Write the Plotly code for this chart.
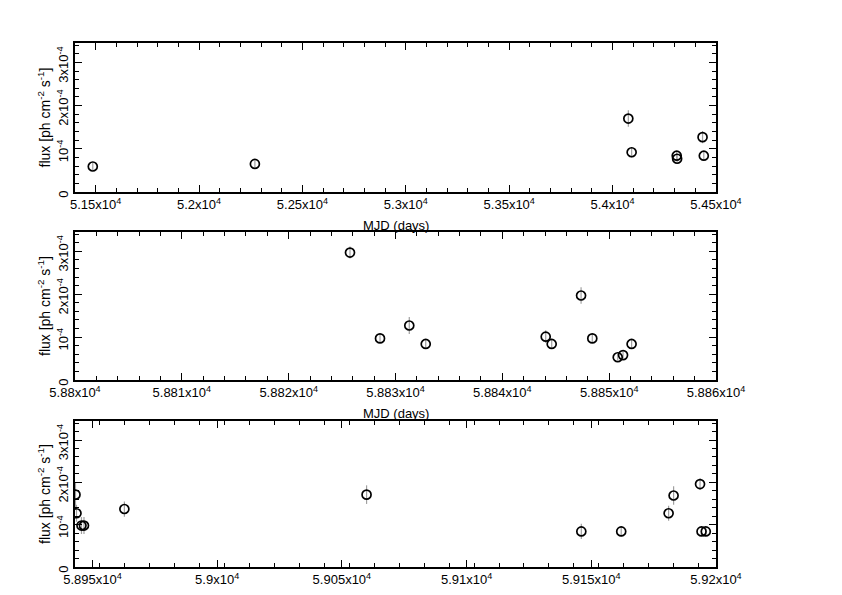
import plotly.graph_objects as go

# ---------------- data ----------------
p1_mjd = [51486, 52270, 54076, 54092, 54310, 54312, 54435, 54441]
p1_flux = [0.59e-4, 0.65e-4, 1.70e-4, 0.92e-4, 0.84e-4, 0.77e-4, 1.27e-4, 0.84e-4]
p1_err = [0.08e-4, 0.08e-4, 0.19e-4, 0.12e-4, 0.10e-4, 0.10e-4, 0.14e-4, 0.10e-4]

p2_mjd = [58825.74, 58828.55, 58831.29, 58832.83, 58844.06, 58844.62, 58847.37, 58848.42,
          58850.8, 58851.3, 58852.1]
p2_flux = [2.97e-4, 0.97e-4, 1.27e-4, 0.84e-4, 1.01e-4, 0.84e-4, 1.97e-4, 0.97e-4,
           0.53e-4, 0.58e-4, 0.84e-4]
p2_err = [0.14e-4, 0.10e-4, 0.20e-4, 0.10e-4, 0.15e-4, 0.12e-4, 0.19e-4, 0.10e-4,
          0.08e-4, 0.08e-4, 0.10e-4]

p3_mjd = [58943.2, 58943.6, 58945.6, 58946.6, 58962.8, 59059.9, 59146.0, 59162.0,
          59181.0, 59183.0, 59193.6, 59194.2, 59195.9]
p3_flux = [1.71e-4, 1.27e-4, 0.98e-4, 0.98e-4, 1.37e-4, 1.71e-4, 0.84e-4, 0.84e-4,
           1.27e-4, 1.69e-4, 1.96e-4, 0.84e-4, 0.84e-4]
p3_err = [0.30e-4, 0.20e-4, 0.20e-4, 0.20e-4, 0.18e-4, 0.22e-4, 0.18e-4, 0.12e-4,
          0.18e-4, 0.22e-4, 0.14e-4, 0.10e-4, 0.10e-4]

p1_ticks = [51500, 52000, 52500, 53000, 53500, 54000, 54500]
p1_labels = ["5.15x10<sup>4</sup>", "5.2x10<sup>4</sup>", "5.25x10<sup>4</sup>", "5.3x10<sup>4</sup>",
             "5.35x10<sup>4</sup>", "5.4x10<sup>4</sup>", "5.45x10<sup>4</sup>"]
p2_ticks = [58800, 58810, 58820, 58830, 58840, 58850, 58860]
p2_labels = ["5.88x10<sup>4</sup>", "5.881x10<sup>4</sup>", "5.882x10<sup>4</sup>", "5.883x10<sup>4</sup>",
             "5.884x10<sup>4</sup>", "5.885x10<sup>4</sup>", "5.886x10<sup>4</sup>"]
p3_ticks = [58950, 59000, 59050, 59100, 59150, 59200]
p3_labels = ["5.895x10<sup>4</sup>", "5.9x10<sup>4</sup>", "5.905x10<sup>4</sup>", "5.91x10<sup>4</sup>",
             "5.915x10<sup>4</sup>", "5.92x10<sup>4</sup>"]

y_ticks = [0, 1e-4, 2e-4, 3e-4]
y_labels = ["0", "10<sup>-4</sup>", "2x10<sup>-4</sup>", "3x10<sup>-4</sup>"]

x_ranges = [[51400, 54500], [58800, 58860], [58943, 59200]]
x_minor = [100, 2, 10]
y_range = [0, 3.45e-4]

# ---------------- layout geometry ----------------
W, H = 842, 595
OFF = 8  # page body margin
left_px, right_px = 75 - OFF, 716 - OFF
panels_px = [(43 - OFF, 192 - OFF), (232 - OFF, 380 - OFF), (421 - OFF, 567 - OFF)]

fig = go.Figure()
font = dict(family="Liberation Sans, Arial, sans-serif", size=13, color="black")
title_font = dict(family="Liberation Sans, Arial, sans-serif", size=14, color="black")

datasets = [(p1_mjd, p1_flux, p1_err), (p2_mjd, p2_flux, p2_err), (p3_mjd, p3_flux, p3_err)]
tickinfo = [(p1_ticks, p1_labels), (p2_ticks, p2_labels), (p3_ticks, p3_labels)]

layout = dict(width=W, height=H, margin=dict(l=0, r=0, t=0, b=0, autoexpand=False),
              paper_bgcolor="white", plot_bgcolor="white", showlegend=False, font=font)

annotations = []
for i, ((xs, ys, es), (tv, tt), (top, bot)) in enumerate(zip(datasets, tickinfo, panels_px)):
    n = "" if i == 0 else str(i + 1)
    fig.add_trace(go.Scatter(
        x=xs, y=ys, mode="markers",
        xaxis="x" + n, yaxis="y" + n,
        marker=dict(symbol="circle-open", size=9, color="black", line=dict(width=1.7, color="black")),
        error_y=dict(type="data", array=es, visible=True, color="#a0a0a0", thickness=1.2, width=0),
    ))
    common = dict(showline=True, linecolor="black", linewidth=1.6, mirror="ticks",
                  ticks="inside", ticklen=7, tickwidth=1.3, tickcolor="black",
                  showgrid=False, zeroline=False, tickfont=font, automargin=False)
    layout["xaxis" + n] = dict(
        domain=[left_px / W, right_px / W], range=x_ranges[i], anchor="y" + n,
        tickmode="array", tickvals=tv, ticktext=tt,
        minor=dict(dtick=x_minor[i], tick0=x_ranges[i][0], ticklen=4, tickwidth=1.2,
                   tickcolor="black", ticks="inside", showgrid=False),
        **common)
    layout["yaxis" + n] = dict(
        domain=[1 - bot / H, 1 - top / H], range=y_range, anchor="x" + n,
        tickmode="array", tickvals=y_ticks, ticktext=y_labels, tickangle=-90,
        ticklabelshift=4,
        minor=dict(dtick=0.2e-4, tick0=0, ticklen=4, tickwidth=1.2,
                   tickcolor="black", ticks="inside", showgrid=False),
        **common)
    annotations.append(dict(
        text="flux [ph cm<sup>-2</sup> s<sup>-1</sup>]", textangle=-90,
        x=(44 - OFF) / W, y=1 - (top + bot) / 2 / H, xref="paper", yref="paper",
        showarrow=False, font=title_font, xanchor="center", yanchor="middle"))
    if i < 2:
        annotations.append(dict(
            text="MJD (days)", x=((75 + 716) / 2 - OFF) / W, y=1 - (bot + 33) / H,
            xref="paper", yref="paper", showarrow=False, font=font,
            xanchor="center", yanchor="middle"))

layout["annotations"] = annotations
fig.update_layout(**layout)
fig.write_html("out.html")
